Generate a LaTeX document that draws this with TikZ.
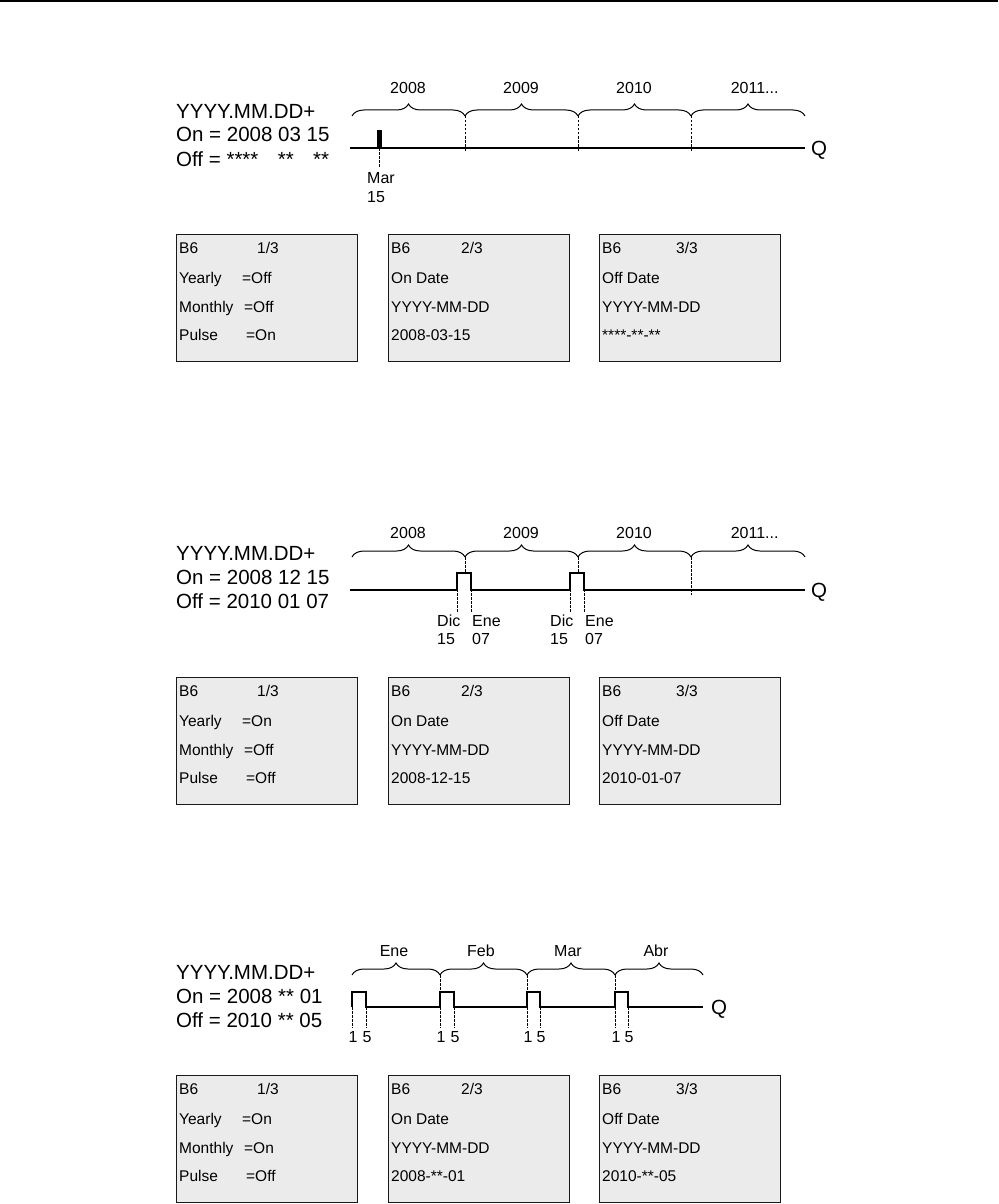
\documentclass[tikz,border=0pt]{standalone}
\usepackage{fontspec}
\setmainfont{Liberation Sans}
\usetikzlibrary{decorations.pathreplacing}

% one LCD panel: name, x, y, four rows
\newcommand{\lcdpanel}[7]{%
  \node[lcd] (#1) at (#2,#3) {};
  \node[lcdtxt] (#1-0) at (#2+3,#3+19) {#4};
  \node[lcdtxt] (#1-1) at (#2+3,#3+49) {#5};
  \node[lcdtxt] (#1-2) at (#2+3,#3+78) {#6};
  \node[lcdtxt] (#1-3) at (#2+3,#3+106) {#7};}

\begin{document}
\begin{tikzpicture}[x=1pt,y=-1pt,
  big/.style={anchor=base west,inner sep=0pt,font=\fontsize{20.5}{20.5}\selectfont},
  tick/.style={anchor=base,inner sep=0pt,font=\fontsize{16}{16}\selectfont},
  lcd/.style={draw=black!90,fill=black!8,line width=1.4pt,anchor=north west,minimum width=181pt,minimum height=127pt,inner sep=0pt},
  lcdtxt/.style={anchor=base west,inner sep=0pt,font=\fontsize{15.5}{15.5}\selectfont},
  sig/.style={line width=2.2pt,line join=miter},
  brc/.style={decorate,decoration={brace,amplitude=12pt},line width=1pt},
  dsh/.style={line width=0.9pt,dash pattern=on 2.5pt off 1.5pt}]
  \useasboundingbox (0,0) rectangle (998,1204);
  \draw[line width=1.6pt] (0,1) -- (998,1);

  % --- pulse on 15 March only ---
  \node[big] (a-fmt) at (176,118) {YYYY.MM.DD+};
  \node[big] (a-on)  at (176,142) {On = 2008 03 15};
  \node[big] (a-off) at (176,166) {Off = \rlap{****}\hphantom{2008} \rlap{**}\hphantom{03} \hphantom{15}\llap{**}};
  \foreach \x/\t [count=\i] in {408/2008,521/2009,634/2010,748/{2011\rlap{...}}}
    \node[tick] (a-y\i) at (\x,94) {\t};
  \foreach \a/\b in {352/465,465/578,578/691,691/805}
    \draw[brc] (\a,116) -- (\b,116);
  \foreach \x in {465,578,691}
    \draw[dsh] (\x,116) -- (\x,152);
  \draw[dsh] (379,148) -- (379,168);
  \draw[sig] (350,148) -- (378,148) -- (378,131) -- (380.5,131) -- (380.5,148) -- (805,148);
  \node[big] (a-q) at (811,155) {Q};
  \node[tick,anchor=base west] (a-m1) at (367,183) {Mar};
  \node[tick,anchor=base west] (a-m2) at (367,202) {15};

  \lcdpanel{a1}{176}{234}{\makebox[78pt][l]{B6}1/3}{\makebox[63pt][l]{Yearly}=Off}{\makebox[65pt][l]{Monthly}=Off}{\makebox[67pt][l]{Pulse}=On}
  \lcdpanel{a2}{388}{234}{\makebox[70pt][l]{B6}2/3}{On Date}{YYYY-MM-DD}{2008-03-15}
  \lcdpanel{a3}{599}{234}{\makebox[74pt][l]{B6}3/3}{Off Date}{YYYY-MM-DD}{****-**-**}

  % --- yearly, 15 Dec to 7 Jan ---
  \node[big] (b-fmt) at (176,560) {YYYY.MM.DD+};
  \node[big] (b-on)  at (176,584) {On = 2008 12 15};
  \node[big] (b-off) at (176,608) {Off = 2010 01 07};
  \foreach \x/\t [count=\i] in {408/2008,521/2009,634/2010,748/{2011\rlap{...}}}
    \node[tick] (b-y\i) at (\x,538) {\t};
  \foreach \a/\b in {352/465,465/578,578/691,691/805}
    \draw[brc] (\a,557) -- (\b,557);
  \foreach \x in {465,578}
    \draw[dsh] (\x,557) -- (\x,573);
  \draw[dsh] (691,557) -- (691,595);
  \foreach \x in {457,471,570,584}
    \draw[dsh] (\x,573) -- (\x,612);
  \draw[sig] (350,590) -- (457,590) -- (457,573) -- (471,573) -- (471,590) -- (570,590) -- (570,573) -- (584,573) -- (584,590) -- (805,590);
  \node[big] (b-q) at (811,597) {Q};
  \foreach \x/\m/\d [count=\i] in {437/Dic/15,472/Ene/07,550/Dic/15,585/Ene/07} {
    \node[tick,anchor=base west] (b-m\i) at (\x,626) {\m};
    \node[tick,anchor=base west] (b-d\i) at (\x,644) {\d};
  }

  \lcdpanel{b1}{176}{677}{\makebox[78pt][l]{B6}1/3}{\makebox[63pt][l]{Yearly}=On}{\makebox[65pt][l]{Monthly}=Off}{\makebox[67pt][l]{Pulse}=Off}
  \lcdpanel{b2}{388}{677}{\makebox[70pt][l]{B6}2/3}{On Date}{YYYY-MM-DD}{2008-12-15}
  \lcdpanel{b3}{599}{677}{\makebox[74pt][l]{B6}3/3}{Off Date}{YYYY-MM-DD}{2010-01-07}

  % --- monthly, day 1 to day 5 ---
  \node[big] (c-fmt) at (176,979) {YYYY.MM.DD+};
  \node[big] (c-on)  at (176,1003) {On = 2008 ** 01};
  \node[big] (c-off) at (176,1027) {Off = 2010 ** 05};
  \foreach \x/\t [count=\i] in {394/Ene,481/Feb,568/Mar,656/Abr}
    \node[tick] (c-y\i) at (\x,956) {\t};
  \foreach \a/\b in {352/440,440/527,527/615,615/703}
    \draw[brc] (\a,975) -- (\b,975);
  \draw[dsh] (352,1007) -- (352,1028);
  \foreach \x in {440,527,615}
    \draw[dsh] (\x,975) -- (\x,1028);
  \foreach \x in {366,454,540,628}
    \draw[dsh] (\x,1007) -- (\x,1028);
  \draw[sig] (352,1007) -- (352,992) -- (366,992) -- (366,1007) -- (440,1007) -- (440,992) -- (454,992) -- (454,1007) -- (527,1007) -- (527,992) -- (540,992) -- (540,1007) -- (615,1007) -- (615,992) -- (628,992) -- (628,1007) -- (703,1007);
  \node[big] (c-q) at (711,1014) {Q};
  \foreach \x/\y [count=\i] in {352/366,440/454,527/540,615/628} {
    \node[tick] (c-a\i) at (\x+1,1042) {1};
    \node[tick] (c-b\i) at (\y+1,1042) {5};
  }

  \lcdpanel{c1}{176}{1075}{\makebox[78pt][l]{B6}1/3}{\makebox[63pt][l]{Yearly}=On}{\makebox[65pt][l]{Monthly}=On}{\makebox[67pt][l]{Pulse}=Off}
  \lcdpanel{c2}{388}{1075}{\makebox[70pt][l]{B6}2/3}{On Date}{YYYY-MM-DD}{2008-**-01}
  \lcdpanel{c3}{599}{1075}{\makebox[74pt][l]{B6}3/3}{Off Date}{YYYY-MM-DD}{2010-**-05}
\end{tikzpicture}
\end{document}
